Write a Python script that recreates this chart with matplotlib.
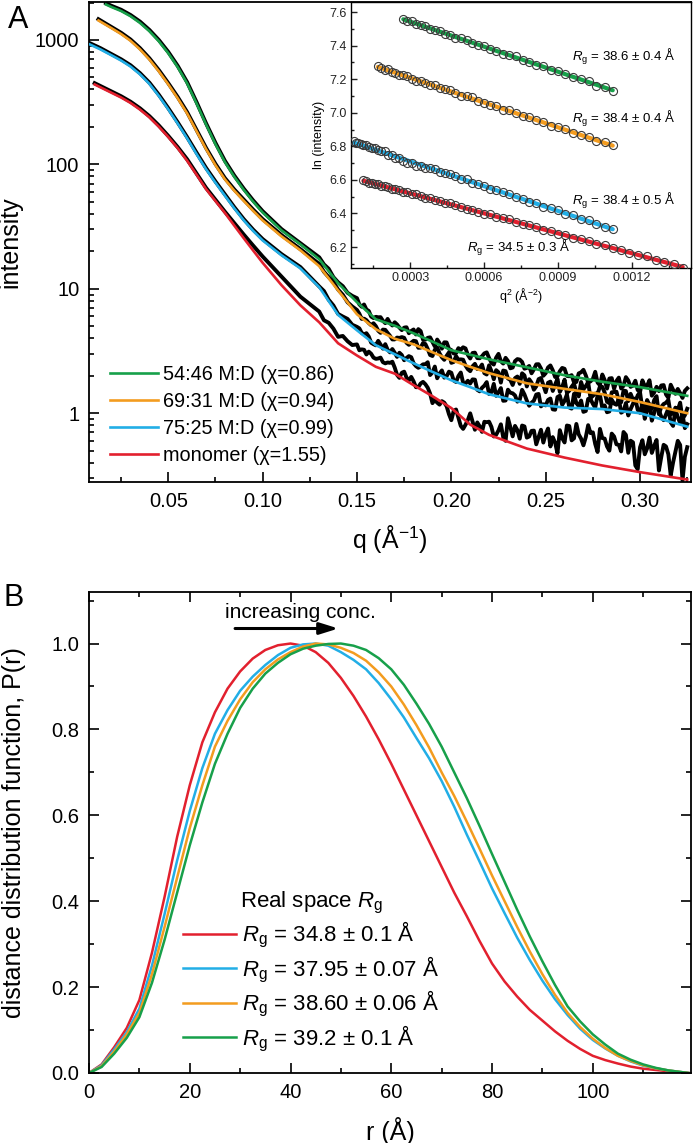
import numpy as np
import matplotlib
matplotlib.use("Agg")
import matplotlib.pyplot as plt
from matplotlib.ticker import FixedLocator, MultipleLocator, FuncFormatter, LogLocator, NullFormatter, FormatStrFormatter

plt.rcParams['font.family'] = ['Liberation Sans', 'DejaVu Sans']
plt.rcParams['mathtext.fontset'] = 'custom'
plt.rcParams['mathtext.rm'] = 'Liberation Sans'
plt.rcParams['mathtext.it'] = 'Liberation Sans:italic'
plt.rcParams['mathtext.bf'] = 'Liberation Sans:bold'

C_GREEN = '#17a04a'
C_ORANGE = '#f39c1f'
C_CYAN = '#22aee6'
C_RED = '#e2202e'

# ---------------- Panel A : SAXS fits ----------------
fit_q_tail = [0.02, 0.025, 0.03, 0.035, 0.04, 0.045, 0.05, 0.055, 0.06, 0.065, 0.07, 0.075, 0.08, 0.085,
              0.09, 0.095, 0.10, 0.11, 0.12, 0.13, 0.14, 0.15, 0.16, 0.17, 0.18, 0.19, 0.20, 0.21, 0.22,
              0.24, 0.26, 0.28, 0.30, 0.325]
green_fit_q = [0.017] + fit_q_tail
green_fit_I = [1928, 1838, 1710, 1553, 1372, 1177, 977, 783, 605, 448, 309, 210, 145.5, 104.5, 79.4,
               62.4, 50.1, 41.1, 29.5, 22.8, 17.3, 11.1, 7.8, 5.69, 5.05, 4.39, 3.76, 3.21, 2.95, 2.71,
               2.34, 2.02, 1.79, 1.62, 1.38]
orange_fit_q = [0.013] + fit_q_tail
orange_fit_I = [1435, 1242, 1117, 986, 841, 697, 560, 440, 340, 257, 185, 133, 98.6, 75.9, 61.4,
                50.9, 42.3, 35.5, 26.4, 20.4, 15.2, 9.7, 6.24, 4.73, 3.97, 3.58, 3.09, 2.67, 2.36, 2.10,
                1.74, 1.57, 1.42, 1.23, 1.00]
cyan_fit_q = [0.0085, 0.014] + fit_q_tail
cyan_fit_I = [920, 841, 752, 684, 612, 530, 444, 355, 277, 213, 162, 121, 91.6, 71.3, 56.1, 44.3,
              35.5, 29.2, 24.5, 18.6, 14.6, 10.3, 6.17, 4.64, 3.52, 2.98, 2.52, 2.15, 1.84, 1.62, 1.42,
              1.20, 1.11, 1.08, 1.00, 0.78]
red_fit_q = [0.011] + fit_q_tail
red_fit_I = [439, 376, 345, 312, 276, 239, 201, 166, 135, 107, 82.6, 63.4, 50.8, 40.8, 32.2,
             25.5, 20.3, 16.2, 10.7, 7.37, 5.38, 3.65, 2.91, 2.36, 2.08, 1.68, 1.37, 1.10, 0.81, 0.67,
             0.52, 0.44, 0.38, 0.336, 0.293]

# ---------------- Panel A : measured data (log10 intensity) ----------------
data_q_tail = [0.02, 0.025, 0.03, 0.035, 0.04, 0.045, 0.05, 0.055, 0.06, 0.065, 0.07, 0.075, 0.08, 0.085,
               0.09, 0.095, 0.10, 0.11, 0.12]
green_data_q_low = [0.017] + data_q_tail
orange_data_q_low = [0.013] + data_q_tail
cyan_data_q_low = [0.0085, 0.014] + data_q_tail
red_data_q_low = [0.011] + data_q_tail
green_data_log10_low = [3.295, 3.274, 3.243, 3.201, 3.148, 3.081, 3.000, 2.904, 2.792, 2.661, 2.500, 2.331,
                        2.173, 2.029, 1.910, 1.805, 1.710, 1.624, 1.480, 1.367]
orange_data_log10_low = [3.167, 3.104, 3.058, 3.004, 2.935, 2.853, 2.758, 2.653, 2.542, 2.420, 2.277, 2.133,
                         2.004, 1.890, 1.798, 1.717, 1.636, 1.560, 1.432, 1.319]
cyan_data_log10_low = [2.974, 2.935, 2.886, 2.845, 2.797, 2.734, 2.657, 2.560, 2.452, 2.338, 2.219, 2.094,
                       1.972, 1.863, 1.759, 1.656, 1.560, 1.475, 1.400, 1.279, 1.175]
red_data_log10_low = [2.653, 2.585, 2.548, 2.504, 2.451, 2.388, 2.313, 2.229, 2.139, 2.041, 1.927, 1.812,
                      1.716, 1.620, 1.528, 1.436, 1.347, 1.260, 1.098, 0.937]

q_noisy = [0.1300, 0.1325, 0.1350, 0.1375, 0.1400, 0.1425, 0.1450, 0.1475, 0.1500, 0.1525,
           0.1550, 0.1575, 0.1600, 0.1625, 0.1650, 0.1675, 0.1700, 0.1725, 0.1750, 0.1775,
           0.1800, 0.1825, 0.1850, 0.1875, 0.1900, 0.1925, 0.1950, 0.1975, 0.2000, 0.2025,
           0.2050, 0.2075, 0.2100, 0.2125, 0.2150, 0.2175, 0.2200, 0.2225, 0.2250, 0.2275,
           0.2300, 0.2325, 0.2350, 0.2375, 0.2400, 0.2425, 0.2450, 0.2475, 0.2500, 0.2525,
           0.2550, 0.2575, 0.2600, 0.2625, 0.2650, 0.2675, 0.2700, 0.2725, 0.2750, 0.2775,
           0.2800, 0.2825, 0.2850, 0.2875, 0.2900, 0.2925, 0.2950, 0.2975, 0.3000, 0.3025,
           0.3050, 0.3075, 0.3100, 0.3125, 0.3150, 0.3175, 0.3200, 0.3225, 0.3250]
q_mid = [0.15125, 0.15375, 0.15625, 0.15875, 0.16125, 0.16375, 0.16625, 0.16875, 0.17125, 0.17375,
         0.17625, 0.17875, 0.18125, 0.18375, 0.18625, 0.18875, 0.19125, 0.19375, 0.19625, 0.19875,
         0.20125, 0.20375, 0.20625, 0.20875, 0.21125, 0.21375, 0.21625, 0.21875, 0.22125, 0.22375,
         0.22625, 0.22875, 0.23125, 0.23375, 0.23625, 0.23875, 0.24125, 0.24375, 0.24625, 0.24875,
         0.25125, 0.25375, 0.25625, 0.25875, 0.26125, 0.26375, 0.26625, 0.26875, 0.27125, 0.27375,
         0.27625, 0.27875, 0.28125, 0.28375, 0.28625, 0.28875, 0.29125, 0.29375, 0.29625, 0.29875,
         0.30125, 0.30375, 0.30625, 0.30875, 0.31125, 0.31375, 0.31625, 0.31875, 0.32125, 0.32375]

green_data_log10_noisy = [1.253, 1.196, 1.161, 1.094, 1.052, 1.021, 0.968, 0.943, 0.925, 0.856,
                          0.834, 0.777, 0.775, 0.772, 0.724, 0.724, 0.731, 0.688, 0.688, 0.643,
                          0.673, 0.676, 0.591, 0.606, 0.573, 0.592, 0.519, 0.569, 0.508, 0.483,
                          0.510, 0.521, 0.440, 0.487, 0.442, 0.481, 0.444, 0.391, 0.477, 0.399,
                          0.420, 0.367, 0.435, 0.412, 0.364, 0.321, 0.393, 0.360, 0.322, 0.384,
                          0.291, 0.338, 0.357, 0.297, 0.248, 0.320, 0.349, 0.247, 0.276, 0.246,
                          0.311, 0.198, 0.282, 0.259, 0.199, 0.290, 0.212, 0.261, 0.171, 0.218,
                          0.265, 0.167, 0.178, 0.226, 0.124, 0.189, 0.195, 0.123, 0.200]
green_data_log10_mid = [0.875, 0.874, 0.822, 0.765, 0.771, 0.743, 0.758, 0.705, 0.713, 0.668,
                        0.691, 0.661, 0.633, 0.660, 0.591, 0.610, 0.537, 0.564, 0.570, 0.517,
                        0.480, 0.523, 0.530, 0.469, 0.484, 0.443, 0.458, 0.489, 0.405, 0.447,
                        0.418, 0.445, 0.361, 0.419, 0.431, 0.358, 0.380, 0.352, 0.394, 0.301,
                        0.368, 0.345, 0.297, 0.364, 0.300, 0.306, 0.251, 0.329, 0.304, 0.256,
                        0.333, 0.225, 0.267, 0.279, 0.196, 0.286, 0.221, 0.263, 0.222, 0.186,
                        0.264, 0.221, 0.141, 0.212, 0.223, 0.151, 0.229, 0.156, 0.162, 0.180]
orange_data_log10_noisy = [1.199, 1.137, 1.094, 1.053, 0.994, 0.952, 0.892, 0.858, 0.830, 0.758,
                           0.748, 0.708, 0.700, 0.646, 0.670, 0.622, 0.593, 0.605, 0.606, 0.550,
                           0.582, 0.526, 0.564, 0.516, 0.460, 0.529, 0.450, 0.461, 0.405, 0.459,
                           0.433, 0.383, 0.338, 0.397, 0.362, 0.322, 0.385, 0.273, 0.329, 0.343,
                           0.279, 0.227, 0.295, 0.321, 0.215, 0.246, 0.216, 0.283, 0.169, 0.254,
                           0.230, 0.171, 0.270, 0.181, 0.238, 0.135, 0.192, 0.250, 0.139, 0.155,
                           0.212, 0.092, 0.168, 0.173, 0.088, 0.178, 0.156, 0.085, 0.168, 0.033,
                           0.066, 0.106, -0.008, 0.074, 0.107, 0.000, 0.026, -0.046, 0.036]
orange_data_log10_mid = [0.800, 0.760, 0.725, 0.723, 0.663, 0.672, 0.645, 0.593, 0.608, 0.612,
                         0.566, 0.567, 0.579, 0.527, 0.556, 0.468, 0.510, 0.481, 0.429, 0.489,
                         0.412, 0.430, 0.430, 0.354, 0.377, 0.355, 0.391, 0.311, 0.338, 0.346,
                         0.246, 0.338, 0.268, 0.282, 0.236, 0.304, 0.273, 0.189, 0.274, 0.226,
                         0.245, 0.179, 0.276, 0.210, 0.163, 0.213, 0.166, 0.251, 0.218, 0.121,
                         0.158, 0.215, 0.166, 0.081, 0.171, 0.099, 0.182, 0.097, 0.110, 0.144,
                         0.031, 0.106, 0.034, 0.137, 0.051, 0.084, -0.010, 0.045, 0.085, -0.016]
cyan_data_log10_noisy = [1.019, 0.982, 0.912, 0.866, 0.798, 0.777, 0.758, 0.711, 0.694, 0.646,
                         0.643, 0.567, 0.546, 0.552, 0.555, 0.489, 0.486, 0.486, 0.426, 0.459,
                         0.402, 0.365, 0.393, 0.410, 0.328, 0.281, 0.344, 0.297, 0.325, 0.251,
                         0.327, 0.238, 0.239, 0.270, 0.176, 0.222, 0.154, 0.236, 0.168, 0.100,
                         0.189, 0.160, 0.093, 0.188, 0.101, 0.084, 0.150, 0.055, 0.063, 0.118,
                         0.028, 0.141, 0.099, 0.046, 0.156, 0.058, 0.011, 0.115, 0.075, 0.142,
                         0.042, 0.008, 0.109, 0.068, 0.004, 0.082, 0.033, 0.119, 0.003, -0.045,
                         0.073, 0.003, 0.023, -0.056, 0.037, -0.102, -0.030, -0.010, -0.088]
cyan_data_log10_mid = [0.682, 0.634, 0.616, 0.555, 0.582, 0.519, 0.510, 0.516, 0.453, 0.468,
                       0.444, 0.450, 0.379, 0.377, 0.394, 0.307, 0.375, 0.318, 0.286, 0.334,
                       0.263, 0.299, 0.245, 0.261, 0.272, 0.188, 0.204, 0.250, 0.169, 0.140,
                       0.202, 0.102, 0.165, 0.143, 0.108, 0.151, 0.060, 0.101, 0.155, 0.072,
                       0.107, 0.031, 0.130, 0.067, 0.151, 0.037, 0.081, 0.102, 0.018, 0.114,
                       0.045, 0.148, 0.063, 0.014, 0.077, 0.118, 0.017, -0.018, 0.076, 0.027,
                       0.080, 0.025, -0.060, 0.058, -0.028, -0.010, -0.074, 0.028, -0.080, -0.120]
red_data_log10_noisy = [0.817, 0.747, 0.727, 0.680, 0.614, 0.621, 0.579, 0.548, 0.553, 0.513,
                        0.472, 0.478, 0.437, 0.447, 0.401, 0.405, 0.367, 0.284, 0.334, 0.263,
                        0.256, 0.210, 0.252, 0.205, 0.081, 0.085, 0.097, 0.056, -0.056, 0.030,
                        -0.102, -0.093, -0.001, -0.133, -0.105, -0.069, -0.068, -0.187, -0.138, -0.194,
                        -0.040, -0.186, -0.136, -0.099, -0.196, -0.142, -0.250, -0.133, -0.168, -0.267,
                        -0.237, -0.136, -0.235, -0.103, -0.202, -0.170, -0.258, -0.096, -0.154, -0.312,
                        -0.200, -0.267, -0.164, -0.250, -0.307, -0.174, -0.221, -0.420, -0.274, -0.330,
                        -0.196, -0.262, -0.460, -0.254, -0.330, -0.396, -0.222, -0.540, -0.273]
red_data_log10_mid = [0.506, 0.510, 0.495, 0.447, 0.440, 0.410, 0.408, 0.414, 0.308, 0.325,
                      0.287, 0.292, 0.209, 0.239, 0.233, 0.158, 0.109, 0.069, 0.085, -0.008,
                      0.019, -0.036, -0.126, -0.054, -0.067, -0.074, -0.150, -0.072, -0.110, -0.173,
                      -0.089, -0.222, -0.110, -0.102, -0.205, -0.106, -0.187, -0.140, -0.192, -0.236,
                      -0.123, -0.192, -0.322, -0.201, -0.099, -0.218, -0.086, -0.204, -0.192, -0.160,
                      -0.248, -0.126, -0.204, -0.301, -0.187, -0.254, -0.151, -0.318, -0.234, -0.450,
                      -0.217, -0.283, -0.319, -0.215, -0.351, -0.267, -0.500, -0.309, -0.255, -0.350]

legend_A = ['54:46 M:D (χ=0.86)', '69:31 M:D (χ=0.94)', '75:25 M:D (χ=0.99)', 'monomer (χ=1.55)']

# ---------------- Inset : Guinier plots ----------------
inset_q = [0.0085, 0.0090, 0.0095, 0.0100, 0.0105, 0.0110, 0.0115, 0.0120, 0.0125, 0.0130,
           0.0135, 0.0140, 0.0145, 0.0150, 0.0155, 0.0160, 0.0165, 0.0170, 0.0175, 0.0180,
           0.0185, 0.0190, 0.0195, 0.0200, 0.0205, 0.0210, 0.0215, 0.0220, 0.0225, 0.0230,
           0.0235, 0.0240, 0.0245, 0.0250, 0.0255, 0.0260, 0.0265, 0.0270, 0.0275, 0.0280,
           0.0285, 0.0290, 0.0295, 0.0300, 0.0305, 0.0310, 0.0315, 0.0320, 0.0325, 0.0330,
           0.0335, 0.0340, 0.0345, 0.0350, 0.0355, 0.0360, 0.0365, 0.0370, 0.0375]
green_ln = [7.560, 7.547, 7.546, 7.526, 7.521, 7.516, 7.497, 7.495, 7.489, 7.470,
            7.462, 7.446, 7.443, 7.434, 7.414, 7.405, 7.398, 7.379, 7.370, 7.350,
            7.346, 7.336, 7.312, 7.303, 7.287, 7.278, 7.255, 7.250, 7.229, 7.211,
            7.201, 7.188, 7.161, 7.154, 7.132]
orange_ln = [7.277, 7.266, 7.254, 7.259, 7.243, 7.239, 7.226, 7.227, 7.217, 7.204,
             7.191, 7.191, 7.179, 7.166, 7.165, 7.145, 7.141, 7.133, 7.117, 7.102,
             7.098, 7.091, 7.069, 7.061, 7.046, 7.041, 7.018, 7.014, 6.999, 6.980,
             6.976, 6.955, 6.946, 6.924, 6.914, 6.905, 6.881, 6.867, 6.857, 6.831,
             6.823, 6.807]
cyan_ln = [6.833, 6.821, 6.822, 6.816, 6.805, 6.808, 6.798, 6.791, 6.792, 6.781,
           6.770, 6.771, 6.749, 6.748, 6.732, 6.729, 6.715, 6.699, 6.700, 6.685,
           6.684, 6.672, 6.670, 6.663, 6.647, 6.640, 6.634, 6.622, 6.605, 6.603,
           6.584, 6.575, 6.566, 6.546, 6.537, 6.528, 6.517, 6.496, 6.487, 6.471,
           6.464, 6.440, 6.430, 6.419, 6.398, 6.388, 6.365, 6.359, 6.340, 6.320,
           6.305]
red_ln = [6.598, 6.596, 6.583, 6.582, 6.576, 6.575, 6.563, 6.566, 6.555, 6.547,
          6.545, 6.541, 6.526, 6.526, 6.515, 6.514, 6.503, 6.491, 6.493, 6.478,
          6.473, 6.461, 6.460, 6.450, 6.437, 6.424, 6.423, 6.411, 6.398, 6.396,
          6.377, 6.372, 6.364, 6.349, 6.335, 6.330, 6.322, 6.302, 6.294, 6.280,
          6.274, 6.253, 6.248, 6.234, 6.216, 6.211, 6.192, 6.183, 6.163, 6.154,
          6.144, 6.122, 6.109, 6.099, 6.077]
green_q = inset_q[16:51]
orange_q = inset_q[9:51]
cyan_q = inset_q[0:51]
red_q = inset_q[4:59]

green_line_q2 = [0.00027225, 0.00112225]
green_line_ln = [7.557, 7.134]
orange_line_q2 = [0.000169, 0.00112225]
orange_line_ln = [7.273, 6.804]
cyan_line_q2 = [0.00007225, 0.00112225]
cyan_line_ln = [6.8225, 6.306]
red_line_q2 = [0.00011025, 0.00140625]
red_line_ln = [6.595, 6.081]

inset_labels = [r'$R_\mathrm{g}$ = 38.6 ± 0.4 Å', r'$R_\mathrm{g}$ = 38.4 ± 0.4 Å',
                r'$R_\mathrm{g}$ = 38.4 ± 0.5 Å', r'$R_\mathrm{g}$ = 34.5 ± 0.3 Å']

# ---------------- Panel B : P(r) ----------------
r_vals = [0, 2.5, 5, 7.5, 10, 12.5, 15, 17.5, 20, 22.5, 25, 27.5, 30, 32.5, 35, 37.5, 40, 42.5, 45, 47.5,
          50, 52.5, 55, 57.5, 60, 62.5, 65, 67.5, 70, 72.5, 75, 77.5, 80, 82.5, 85, 87.5, 90, 92.5, 95,
          97.5, 100, 102.5, 105, 107.5, 110, 112.5, 115, 117, 119]
red_P = [0, 0.02, 0.06, 0.105, 0.17, 0.28, 0.41, 0.55, 0.67, 0.77, 0.84, 0.895, 0.935, 0.965, 0.985,
         0.996, 1.0, 0.995, 0.98, 0.955, 0.92, 0.878, 0.83, 0.777, 0.72, 0.66, 0.60, 0.54, 0.48, 0.42,
         0.365, 0.308, 0.255, 0.213, 0.178, 0.147, 0.122, 0.097, 0.075, 0.056, 0.040, 0.030, 0.022,
         0.015, 0.010, 0.007, 0.004, 0.002, 0.0]
cyan_P = [0, 0.018, 0.055, 0.095, 0.15, 0.25, 0.37, 0.495, 0.61, 0.71, 0.79, 0.845, 0.89, 0.923, 0.95,
          0.973, 0.99, 0.998, 1.0, 0.995, 0.98, 0.962, 0.94, 0.908, 0.87, 0.828, 0.78, 0.733, 0.68, 0.62,
          0.555, 0.493, 0.43, 0.372, 0.315, 0.263, 0.215, 0.172, 0.135, 0.103, 0.077, 0.057, 0.040,
          0.027, 0.017, 0.011, 0.006, 0.003, 0.0]
orange_P = [0, 0.016, 0.05, 0.09, 0.14, 0.23, 0.34, 0.455, 0.57, 0.67, 0.76, 0.82, 0.87, 0.91, 0.94,
            0.963, 0.98, 0.993, 1.0, 0.998, 0.99, 0.978, 0.96, 0.933, 0.90, 0.858, 0.81, 0.758, 0.70,
            0.645, 0.585, 0.523, 0.46, 0.40, 0.34, 0.283, 0.23, 0.182, 0.14, 0.107, 0.08, 0.058, 0.04,
            0.028, 0.018, 0.011, 0.006, 0.003, 0.0]
green_P = [0, 0.014, 0.045, 0.082, 0.13, 0.21, 0.31, 0.42, 0.53, 0.63, 0.72, 0.79, 0.85, 0.895, 0.93,
           0.955, 0.975, 0.988, 0.995, 0.999, 1.0, 0.995, 0.985, 0.966, 0.94, 0.904, 0.86, 0.813, 0.76,
           0.70, 0.64, 0.576, 0.51, 0.445, 0.38, 0.318, 0.26, 0.205, 0.155, 0.12, 0.09, 0.066, 0.045,
           0.031, 0.02, 0.012, 0.006, 0.003, 0.0]
legend_B = [r'$R_\mathrm{g}$ = 34.8 ± 0.1 Å', r'$R_\mathrm{g}$ = 37.95 ± 0.07 Å',
            r'$R_\mathrm{g}$ = 38.60 ± 0.06 Å', r'$R_\mathrm{g}$ = 39.2 ± 0.1 Å']

# ================= figure =================
W, H = 693, 1143
fig = plt.figure(figsize=(W / 100, H / 100), dpi=100)

axA = fig.add_axes([89 / W, 1 - 482 / H, 602 / W, 480 / H])
axA.set_yscale('log')
for (qd_l, ld_l, ld_n, ld_m) in [(red_data_q_low, red_data_log10_low, red_data_log10_noisy, red_data_log10_mid),
                                 (cyan_data_q_low, cyan_data_log10_low, cyan_data_log10_noisy, cyan_data_log10_mid),
                                 (orange_data_q_low, orange_data_log10_low, orange_data_log10_noisy, orange_data_log10_mid),
                                 (green_data_q_low, green_data_log10_low, green_data_log10_noisy, green_data_log10_mid)]:
    qq = np.array(list(qd_l) + list(q_noisy) + list(q_mid))
    ll = np.array(list(ld_l) + list(ld_n) + list(ld_m))
    order = np.argsort(qq)
    axA.plot(qq[order], 10 ** ll[order], color='black', lw=2.8, solid_joinstyle='round', zorder=2)

hA = []
for q, I, c in [(green_fit_q, green_fit_I, C_GREEN), (orange_fit_q, orange_fit_I, C_ORANGE),
                (cyan_fit_q, cyan_fit_I, C_CYAN), (red_fit_q, red_fit_I, C_RED)]:
    ln, = axA.plot(q, I, color=c, lw=1.9, zorder=3)
    hA.append(ln)

axA.set_xlim(0.008, 0.327)
axA.set_ylim(0.28, 2020)
axA.xaxis.set_major_locator(FixedLocator([0.05, 0.10, 0.15, 0.20, 0.25, 0.30]))
axA.xaxis.set_major_formatter(FormatStrFormatter('%.2f'))
axA.xaxis.set_minor_locator(MultipleLocator(0.025))
axA.yaxis.set_major_locator(LogLocator(base=10))
axA.yaxis.set_minor_locator(LogLocator(base=10, subs=np.arange(2, 10)))
axA.yaxis.set_major_formatter(FuncFormatter(lambda v, p: f'{int(round(v))}'))
axA.yaxis.set_minor_formatter(NullFormatter())
axA.tick_params(which='both', direction='in', top=False, right=False, width=1.2, labelsize=14.5)
axA.tick_params(which='major', length=7, pad=7)
axA.tick_params(which='minor', length=3.5)
for s in axA.spines.values():
    s.set_linewidth(1.3)
axA.set_xlabel('q (Å$^{-1}$)', fontsize=18)
axA.set_ylabel('intensity', fontsize=18)
axA.xaxis.set_label_coords(0.5, -0.085)
axA.yaxis.set_label_coords(-0.11, 0.5)
axA.legend(hA, legend_A, loc='lower left', bbox_to_anchor=(0.035, 0.035), frameon=False,
           fontsize=14.3, handlelength=2.4, handletextpad=0.27, labelspacing=0.40,
           borderpad=0, borderaxespad=0)

# inset
axI = fig.add_axes([351 / W, 1 - 268 / H, 340 / W, 266 / H])
axI.set_facecolor('white')
for q, ln_, lq, lln, c in [(green_q, green_ln, green_line_q2, green_line_ln, C_GREEN),
                           (orange_q, orange_ln, orange_line_q2, orange_line_ln, C_ORANGE),
                           (cyan_q, cyan_ln, cyan_line_q2, cyan_line_ln, C_CYAN),
                           (red_q, red_ln, red_line_q2, red_line_ln, C_RED)]:
    axI.plot(lq, lln, color=c, lw=3.0, solid_capstyle='round', zorder=2)
    axI.plot(np.array(q) ** 2, ln_, 'o', mfc='none', mec='#3a3a3a', ms=5.8, mew=0.8, zorder=3)
axI.set_xlim(0.00006, 0.00144)
axI.set_ylim(6.075, 7.66)
axI.xaxis.set_major_locator(FixedLocator([0.0003, 0.0006, 0.0009, 0.0012]))
axI.xaxis.set_major_formatter(FormatStrFormatter('%.4f'))
axI.xaxis.set_minor_locator(MultipleLocator(0.00015))
axI.yaxis.set_major_locator(MultipleLocator(0.2))
axI.yaxis.set_major_formatter(FormatStrFormatter('%.1f'))
axI.yaxis.set_minor_locator(MultipleLocator(0.1))
axI.tick_params(which='both', direction='in', top=False, right=False, width=1.0, labelsize=9, colors='#222222')
axI.tick_params(which='major', length=4.5, pad=3)
axI.tick_params(which='minor', length=2.5)
for s in axI.spines.values():
    s.set_linewidth(1.0)
axI.set_xlabel('q$^{2}$ (Å$^{-2}$)', fontsize=9, labelpad=1)
axI.set_ylabel('ln (intensity)', fontsize=9, labelpad=3)
axI.text(0.001378, 7.333, inset_labels[0], ha='right', va='center', fontsize=9.5)
axI.text(0.001378, 6.961, inset_labels[1], ha='right', va='center', fontsize=9.5)
axI.text(0.001378, 6.477, inset_labels[2], ha='right', va='center', fontsize=9.5)
axI.text(0.00074, 6.194, inset_labels[3], ha='center', va='center', fontsize=9.5)

# panel B
axB = fig.add_axes([89 / W, 1 - 1073 / H, 602 / W, 481 / H])
hB = []
for P, c in [(red_P, C_RED), (cyan_P, C_CYAN), (orange_P, C_ORANGE), (green_P, C_GREEN)]:
    ln, = axB.plot(r_vals, P, color=c, lw=1.8)
    hB.append(ln)
axB.set_xlim(0, 119.5)
axB.set_ylim(0, 1.12)
axB.xaxis.set_major_locator(MultipleLocator(20))
axB.xaxis.set_minor_locator(MultipleLocator(10))
axB.yaxis.set_major_locator(MultipleLocator(0.2))
axB.yaxis.set_minor_locator(MultipleLocator(0.1))
axB.yaxis.set_major_formatter(FormatStrFormatter('%.1f'))
axB.tick_params(which='both', direction='in', top=True, right=True, width=1.2, labelsize=14.5)
axB.tick_params(which='major', length=7, pad=7)
axB.tick_params(which='minor', length=3.5)
for s in axB.spines.values():
    s.set_linewidth(1.3)
axB.set_xlabel('r (Å)', fontsize=18)
axB.set_ylabel('distance distribution function, P(r)', fontsize=18)
axB.xaxis.set_label_coords(0.5, -0.0915)
axB.yaxis.set_label_coords(-0.105, 0.5)
axB.legend(hB, legend_B, title=r'Real space $R_\mathrm{g}$', loc='lower left',
           bbox_to_anchor=(0.156, 0.04), frameon=False, fontsize=16, title_fontsize=16,
           handlelength=2.4, handletextpad=0.27, labelspacing=0.2, borderpad=0, borderaxespad=0)
axB.annotate('', xy=(49.5, 1.035), xytext=(29, 1.035),
             arrowprops=dict(arrowstyle='-|>,head_length=0.8,head_width=0.25', color='black', lw=2.2,
                             shrinkA=0, shrinkB=0, mutation_scale=14))
axB.text(41.9, 1.072, 'increasing conc.', ha='center', va='center', fontsize=15)

fig.text(18 / W, 1 - 20 / H, 'A', fontsize=22, ha='center', va='center')
fig.text(14 / W, 1 - 598 / H, 'B', fontsize=22, ha='center', va='center')

fig.savefig('out.png', dpi=100)
